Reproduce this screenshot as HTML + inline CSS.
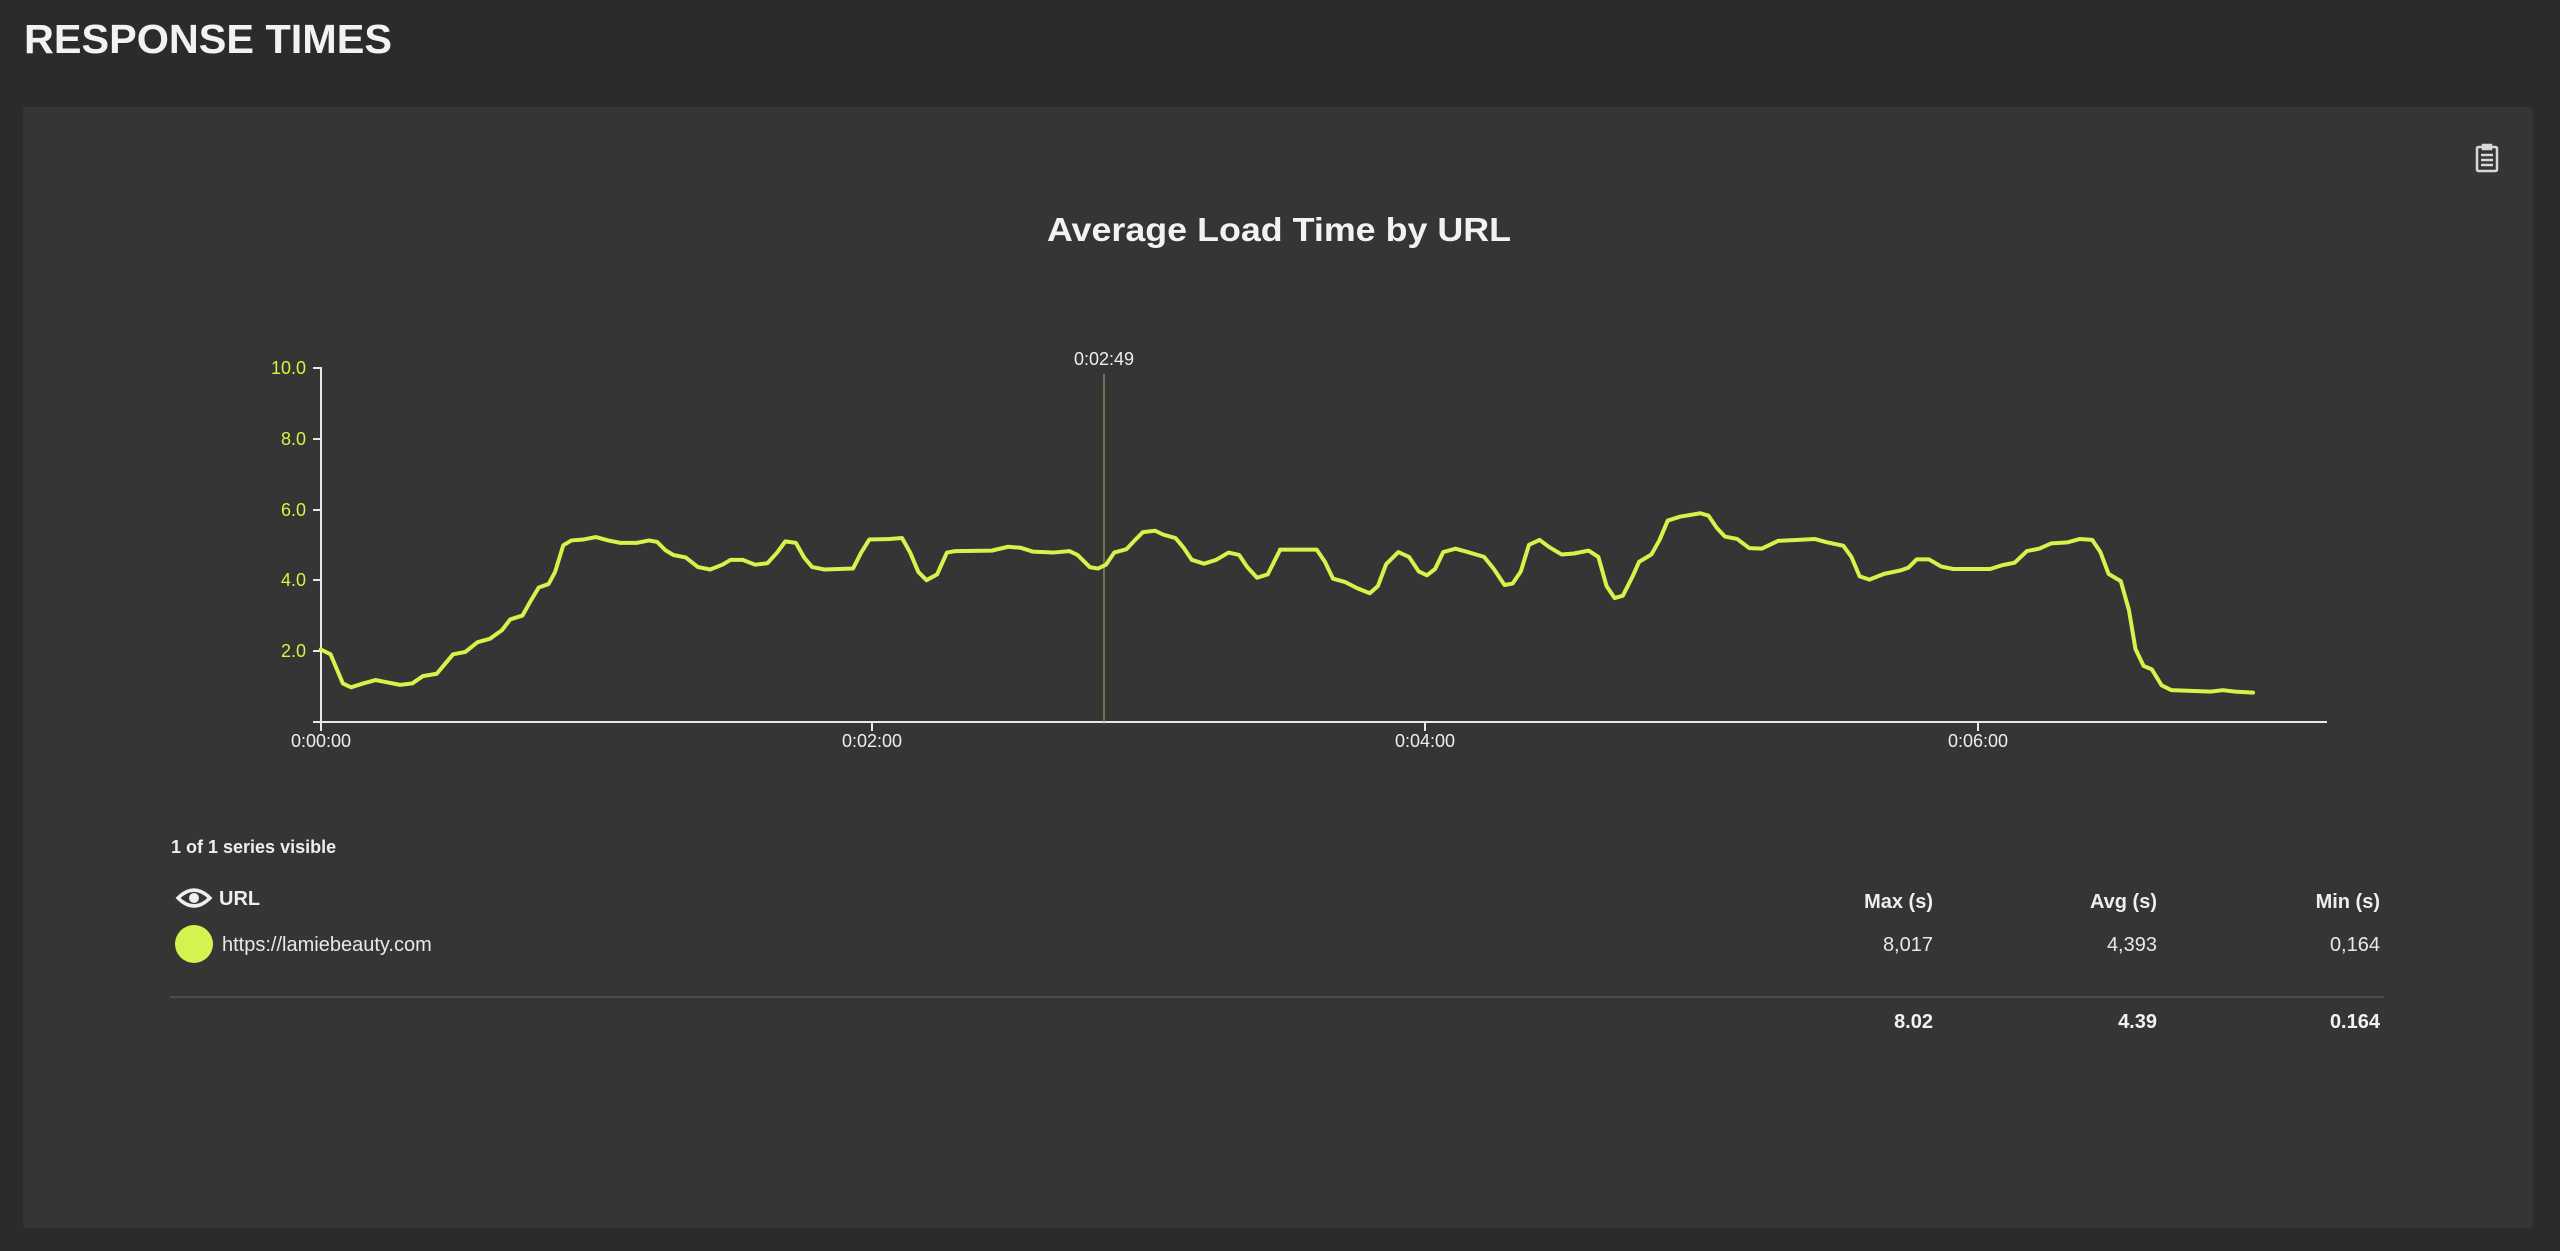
<!DOCTYPE html>
<html><head><meta charset="utf-8"><style>
html,body{margin:0;padding:0;background:#2c2b29;width:2560px;height:1251px;overflow:hidden;font-family:"Liberation Sans",sans-serif}
</style></head><body>
<svg width="2560" height="1251" xmlns="http://www.w3.org/2000/svg" style="position:absolute;left:0;top:0">
<rect width="2560" height="1251" fill="#2c2b29"/>
<text x="24" y="53" fill="#f2f2f2" font-size="41" font-weight="bold" textLength="368" lengthAdjust="spacingAndGlyphs">RESPONSE TIMES</text>
<rect x="23" y="107" width="2510" height="1121" rx="3" fill="#353535"/>
<g transform="translate(2487,158)" fill="none" stroke="#d8d8d8" stroke-width="2.5">
<rect x="-10" y="-11" width="20" height="24" rx="1.5"/>
<path d="M-4,-13 h8 v4 h-8z" fill="#d8d8d8"/>
<path d="M-6,-3 h12 M-6,2 h12 M-6,7 h12"/>
</g>
<text x="1047" y="241" fill="#f2f2f2" font-size="33" font-weight="bold" textLength="464" lengthAdjust="spacingAndGlyphs">Average Load Time by URL</text>
<g stroke="#e8e8e8" stroke-width="2">
<line x1="321" y1="367" x2="321" y2="723"/>
<line x1="313" y1="722" x2="2327" y2="722"/>
<line x1="313" y1="368" x2="321" y2="368"/>
<line x1="313" y1="439" x2="321" y2="439"/>
<line x1="313" y1="510" x2="321" y2="510"/>
<line x1="313" y1="580" x2="321" y2="580"/>
<line x1="313" y1="651" x2="321" y2="651"/>
<line x1="321" y1="722" x2="321" y2="731"/>
<line x1="872" y1="722" x2="872" y2="731"/>
<line x1="1425" y1="722" x2="1425" y2="731"/>
<line x1="1978" y1="722" x2="1978" y2="731"/>
</g>
<g fill="#d4f542" font-size="18" text-anchor="end">
<text x="306" y="374">10.0</text><text x="306" y="445">8.0</text><text x="306" y="516">6.0</text><text x="306" y="586">4.0</text><text x="306" y="657">2.0</text>
</g>
<g fill="#eeeeee" font-size="18" text-anchor="middle">
<text x="321" y="747">0:00:00</text><text x="872" y="747">0:02:00</text><text x="1425" y="747">0:04:00</text><text x="1978" y="747">0:06:00</text>
<text x="1104" y="365">0:02:49</text>
</g>
<line x1="1104" y1="374" x2="1104" y2="722" stroke="#8a8a5a" stroke-width="1.5"/>
<g fill="none" stroke="#d7f24a" stroke-width="4" stroke-linejoin="round" stroke-linecap="round">
<polyline vector-effect="non-scaling-stroke" transform="scale(0.8163,0.4847)" points="393,1340 405,1350 420,1410 430,1418 445,1410 460,1403 475,1408 490,1413 505,1410 518,1395 535,1390 545,1370 555,1350 570,1345 585,1325 600,1318 615,1300 625,1278 640,1270 650,1240 660,1212 672,1205 680,1180 690,1125 700,1115 715,1113 730,1108 745,1115 760,1120 780,1120 795,1115 805,1118 815,1135 825,1145 840,1150 855,1170 870,1175 885,1165 895,1155 910,1155 925,1165 940,1162 952,1140 962,1117 975,1120 985,1150 995,1170 1010,1175 1045,1173 1055,1140 1065,1113 1090,1112 1105,1110 1115,1140 1125,1180 1135,1197 1148,1185 1160,1140 1170,1137 1215,1136 1235,1128 1250,1130 1265,1138 1290,1140 1310,1137 1320,1145 1335,1170 1345,1173 1355,1165 1365,1140 1380,1133 1390,1115 1400,1098 1415,1095 1425,1103 1440,1110 1450,1130 1460,1155 1475,1163 1490,1155 1505,1140 1518,1145 1528,1170 1540,1192 1553,1185 1565,1145 1568,1135"/>
<polyline vector-effect="non-scaling-stroke" transform="translate(1280,300) scale(0.8163,0.4847)" points="0,515 45,515 55,540 65,575 80,582 95,595 110,605 120,590 130,545 145,520 158,530 170,560 180,568 190,555 200,520 215,513 230,520 250,530 262,555 275,588 285,585 295,560 305,505 318,495 330,510 345,525 360,523 378,517 390,530 400,590 410,615 420,610 432,570 440,540 455,525 465,495 475,455 490,447 515,440 525,445 535,470 545,488 560,493 575,512 590,513 610,497 635,495 655,493 670,500 690,507 700,530 710,570 722,577 740,565 760,558 770,552 780,535 795,535 810,550 825,555 870,555 885,547 900,542 915,518 930,513 945,502 965,500 980,493 995,495 1005,520 1015,565 1030,580 1040,640 1048,720 1058,755 1068,762 1080,795 1092,805 1140,808 1155,805 1170,808 1192,810"/>
</g>
<text x="171" y="853" fill="#eeeeee" font-size="18" font-weight="bold">1 of 1 series visible</text>
<g transform="translate(194,898)">
<path d="M-16,0 Q0,-16 16,0 Q0,16 -16,0Z" fill="none" stroke="#eeeeee" stroke-width="3.5"/>
<circle r="5" fill="#eeeeee"/>
</g>
<text x="219" y="905" fill="#eeeeee" font-size="20" font-weight="bold">URL</text>
<circle cx="194" cy="944" r="19" fill="#d4f250"/>
<text x="222" y="951" fill="#e8e8e8" font-size="20">https://lamiebeauty.com</text>
<g fill="#eeeeee" font-size="20" font-weight="bold" text-anchor="end">
<text x="1933" y="908">Max (s)</text><text x="2157" y="908">Avg (s)</text><text x="2380" y="908">Min (s)</text>
</g>
<g fill="#e8e8e8" font-size="20" text-anchor="end">
<text x="1933" y="951">8,017</text><text x="2157" y="951">4,393</text><text x="2380" y="951">0,164</text>
</g>
<line x1="170" y1="997" x2="2384" y2="997" stroke="#4c4c4c" stroke-width="2"/>
<g fill="#f2f2f2" font-size="20" font-weight="bold" text-anchor="end">
<text x="1933" y="1028">8.02</text><text x="2157" y="1028">4.39</text><text x="2380" y="1028">0.164</text>
</g>
</svg>
</body></html>
